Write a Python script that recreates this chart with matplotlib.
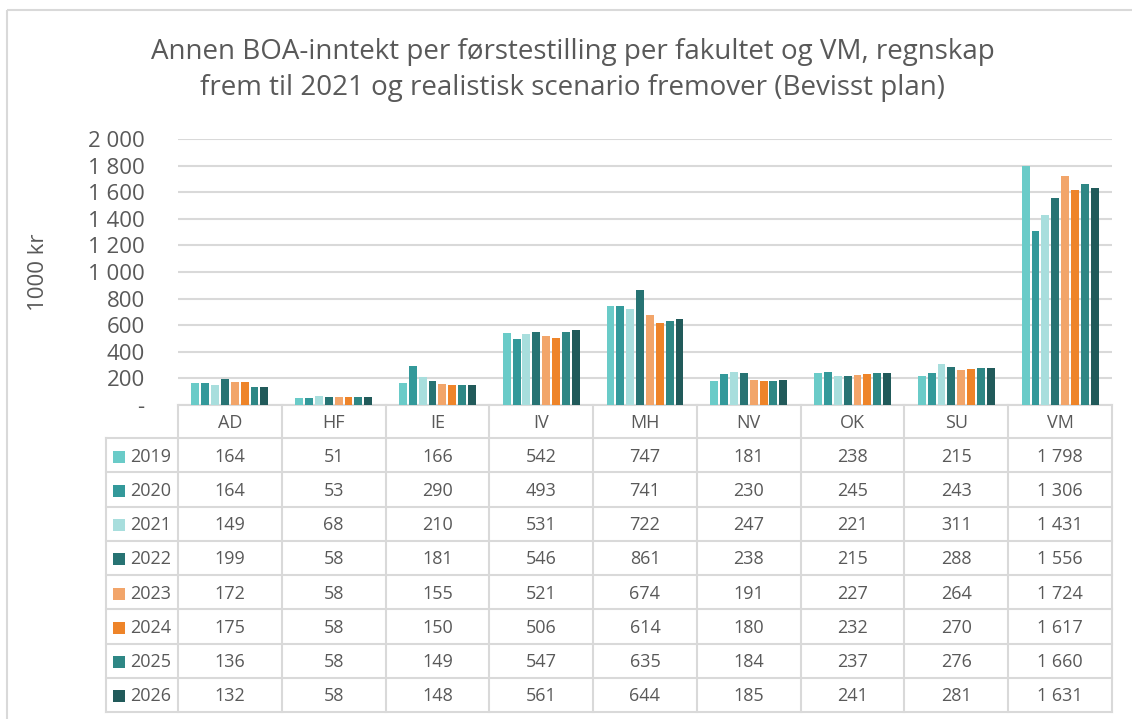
import matplotlib.pyplot as plt
from matplotlib.patches import Rectangle

# --- data ---
categories = ['AD', 'HF', 'IE', 'IV', 'MH', 'NV', 'OK', 'SU', 'VM']
years = ['2019', '2020', '2021', '2022', '2023', '2024', '2025', '2026']
v2019 = [164, 51, 166, 542, 747, 181, 238, 215, 1798]
v2020 = [164, 53, 290, 493, 741, 230, 245, 243, 1306]
v2021 = [149, 68, 210, 531, 722, 247, 221, 311, 1431]
v2022 = [199, 58, 181, 546, 861, 238, 215, 288, 1556]
v2023 = [172, 58, 155, 521, 674, 191, 227, 264, 1724]
v2024 = [175, 58, 150, 506, 614, 180, 232, 270, 1617]
v2025 = [136, 58, 149, 547, 635, 184, 237, 276, 1660]
v2026 = [132, 58, 148, 561, 644, 185, 241, 281, 1631]
series = [v2019, v2020, v2021, v2022, v2023, v2024, v2025, v2026]
colors = ['#6ACBC8', '#33999A', '#A8DEDD', '#277373',
          '#F2A56A', '#EE8429', '#2E8785', '#215A5A']

TXT = '#595959'
GRID = '#D9D9D9'
plt.rcParams['font.family'] = ['Open Sans', 'DejaVu Sans']

W, H = 1132, 719
fig = plt.figure(figsize=(W / 100, H / 100), dpi=100)


def fy(py):
    return 1 - py / H


def fmt(v):
    return f'{v:,}'.replace(',', ' ')


# overlay in pixel coords for border / table
ov = fig.add_axes([0, 0, 1, 1], zorder=0)
ov.set_xlim(0, W)
ov.set_ylim(H, 0)
ov.axis('off')
ov.add_patch(Rectangle((7, 10), W + 10, H + 10, fill=False, ec=GRID, lw=1.5))

# --- bar chart ---
ax = fig.add_axes([178 / W, fy(405), (1112 - 178) / W, (405 - 139) / H], zorder=1)
ax.patch.set_alpha(0)
n = len(series)
slot = 0.76 / n
for i, (vals, c) in enumerate(zip(series, colors)):
    xs = [k - 0.38 + slot * (i + 0.5) for k in range(len(categories))]
    ax.bar(xs, vals, width=slot * 0.8, color=c, zorder=3, label=years[i])

ax.set_xlim(-0.5, len(categories) - 0.5)
ax.set_ylim(0, 2000)
yt = list(range(0, 2001, 200))
ax.set_yticks(yt)
ax.set_yticklabels(['-' if t == 0 else fmt(t) for t in yt], fontsize=16, color=TXT)
ax.tick_params(axis='y', length=0, pad=24)
ax.set_xticks([])
ax.grid(axis='y', color=GRID, lw=1.5, zorder=0)
for s in ['top', 'right', 'left', 'bottom']:
    ax.spines[s].set_visible(False)
ax.set_ylabel('1000 kr', fontsize=16, color=TXT, labelpad=28)

fig.text(573 / W, fy(70), 'Annen BOA-inntekt per førstestilling per fakultet og VM, regnskap\n'
         'frem til 2021 og realistisk scenario fremover (Bevisst plan)',
         ha='center', va='center', fontsize=20, color=TXT, linespacing=1.35)

# --- data table ---
edges = [ax.transData.transform((k - 0.5, 0))[0] for k in range(len(categories) + 1)]
left = 106
top = 405
hdr_h = 33
row_h = (712 - top - hdr_h) / n
rows_y = [top + hdr_h + r * row_h for r in range(n + 1)]
lk = dict(color=GRID, lw=1.5, zorder=2)

# header
for x in edges:
    ov.plot([x, x], [top, rows_y[-1]], **lk)
ov.plot([edges[0], edges[-1]], [top, top], **lk)
ov.plot([left, left], [rows_y[0], rows_y[-1]], **lk)
for y in rows_y:
    ov.plot([left, edges[-1]], [y, y], **lk)
for k, cat in enumerate(categories):
    ov.text((edges[k] + edges[k + 1]) / 2, top + hdr_h / 2 + 1.5, cat, ha='center', va='center',
            fontsize=13, color=TXT)

for r, (vals, c) in enumerate(zip(series, colors)):
    yc = rows_y[r] + row_h / 2 + 1.5
    ov.add_patch(Rectangle((113, yc - 6), 12, 12, color=c, lw=0))
    ov.text(130, yc, years[r], ha='left', va='center', fontsize=13, color=TXT)
    for k, v in enumerate(vals):
        ov.text((edges[k] + edges[k + 1]) / 2, yc, fmt(v), ha='center', va='center',
                fontsize=13, color=TXT)

fig.savefig('out.png', dpi=100)
